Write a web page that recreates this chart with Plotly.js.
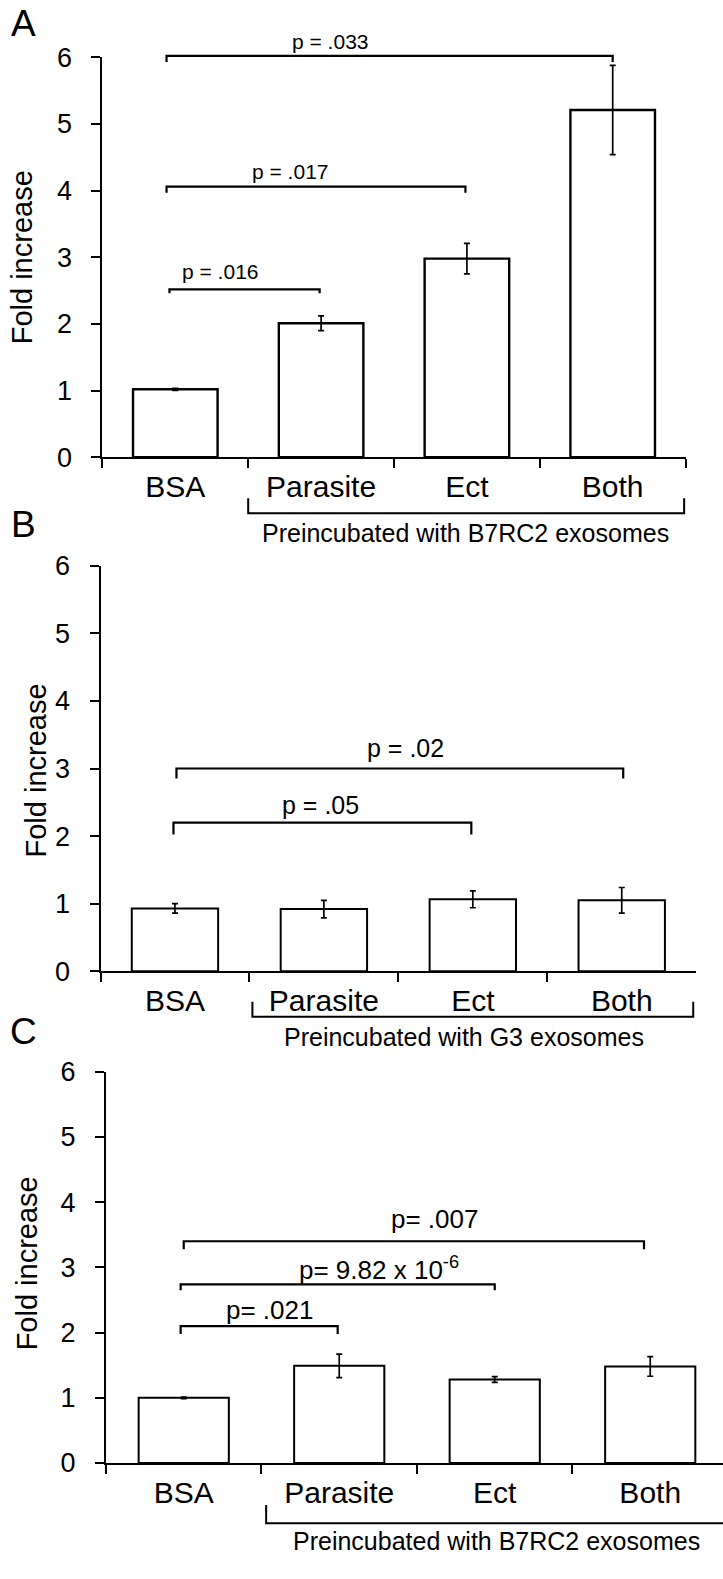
<!DOCTYPE html>
<html>
<head>
<meta charset="utf-8">
<script src="https://cdn.plot.ly/plotly-3.0.1.min.js"></script>
<style>html,body{margin:0;padding:0;background:#fff;}#chart{width:723px;height:1579px;}</style>
</head>
<body>
<div id="chart"></div>
<script>
// ---------- data ----------
const categories = ['BSA', 'Parasite', 'Ect', 'Both'];

const valuesA = [1.02, 2.01, 2.98, 5.21];
const errorsA = [0.015, 0.11, 0.23, 0.67];
const valuesB = [0.93, 0.92, 1.065, 1.05];
const errorsB = [0.07, 0.13, 0.125, 0.19];
const valuesC = [1.00, 1.49, 1.28, 1.48];
const errorsC = [0.012, 0.18, 0.045, 0.15];

const yTicks = [0, 1, 2, 3, 4, 5, 6];

const sigA_text = ['p = .016', 'p = .017', 'p = .033'];
const sigA_from = [-0.04, -0.06, -0.06];
const sigA_to   = [0.99, 1.99, 3.0];
const sigA_y    = [2.52, 4.06, 6.02];
const sigB_text = ['p = .05', 'p = .02'];
const sigB_from = [-0.01, 0.01];
const sigB_to   = [1.99, 3.01];
const sigB_y    = [2.2, 3.0];
const sigC_text = ['p= .021', 'p= 9.82 x 10<sup>-6</sup>', 'p= .007'];
const sigC_from = [-0.02, -0.02, 0.0];
const sigC_to   = [0.99, 2.0, 2.96];
const sigC_y    = [2.10, 2.74, 3.40];

const groupLabels = ['Preincubated with B7RC2 exosomes', 'Preincubated with G3 exosomes', 'Preincubated with B7RC2 exosomes'];
const panelLetters = ['A', 'B', 'C'];
const yTitle = 'Fold increase';

// ---------- layout geometry (pixels) ----------
const W = 723, H = 1579;
const FONT = 'Liberation Sans, Arial, sans-serif';
const panels = [
  {x0: 102.4, x1: 685.6, rMax: 3.5,   yTop: 57.3,  yBot: 457.3, lw: 2.4, pFont: 21, pDrop: [4, 6, 6],
   sig: {text: sigA_text, from: sigA_from, to: sigA_to, y: sigA_y, tx: [0.31, 0.79, 1.06], ty: [2.78, 4.29, 6.23]},
   grp: {from: 0.5, to: 3.49, hy: 56, ey: 41, tx: 1.99, ty: 76}, titleX: 22, titleDy: 0, letterY: 24},
  {x0: 100.5, x1: 696.2, rMax: 3.5,   yTop: 565.7, yBot: 971.3, lw: 2.0, pFont: 25, pDrop: [12, 10],
   sig: {text: sigB_text, from: sigB_from, to: sigB_to, y: sigB_y, tx: [0.975, 1.55], ty: [2.46, 3.30]},
   grp: {from: 0.52, to: 3.48, hy: 45.4, ey: 30.4, tx: 1.94, ty: 65.7}, titleX: 35, titleDy: 2, letterY: 525},
  {x0: 106,   x1: 723,   rMax: 3.468, yTop: 1071.7, yBot: 1463, lw: 2.0, pFont: 26, pDrop: [8, 6, 8],
   sig: {text: sigC_text, from: sigC_from, to: sigC_to, y: sigC_y, tx: [0.553, 1.256, 1.615], ty: [2.35, 2.99, 3.74]},
   grp: {from: 0.53, to: 3.6, hy: 60.3, ey: 42, tx: 2.01, ty: 78, openRight: true}, titleX: 27, titleDy: -4, letterY: 1031}
];
const allValues = [valuesA, valuesB, valuesC];
const allErrors = [errorsA, errorsB, errorsC];

const PX = p => p / W;
const PY = p => 1 - p / H;
function catPx(P, c) { return P.x0 + (c + 0.5) * (P.x1 - P.x0) / (P.rMax + 0.5); }
function valPx(P, v) { return P.yBot - v * (P.yBot - P.yTop) / 6; }

const traces = [];
const layout = {
  width: W, height: H,
  margin: {l: 0, r: 0, t: 0, b: 0},
  paper_bgcolor: '#fff', plot_bgcolor: 'rgba(0,0,0,0)',
  showlegend: false, bargap: 0.42,
  font: {family: FONT, color: '#000'},
  shapes: [], annotations: []
};

panels.forEach((P, i) => {
  const sfx = i === 0 ? '' : String(i + 1);
  traces.push({
    type: 'bar', x: categories, y: allValues[i],
    xaxis: 'x' + sfx, yaxis: 'y' + sfx,
    marker: {color: '#fff', line: {color: '#000', width: P.lw}},
    error_y: {type: 'data', array: allErrors[i], visible: true, color: '#000', thickness: 1.7, width: 3},
    hoverinfo: 'skip'
  });
  layout['xaxis' + sfx] = {
    domain: [PX(P.x0), PX(P.x1)], anchor: 'y' + sfx, type: 'category',
    range: [-0.5, P.rMax], showline: true, linecolor: '#000', linewidth: 2,
    ticks: 'outside', tickson: 'boundaries', ticklen: 9, tickwidth: 2, tickcolor: '#000',
    tickfont: {family: FONT, size: 30, color: '#000'}, ticklabelstandoff: 2,
    showgrid: false, zeroline: false, fixedrange: true
  };
  layout['yaxis' + sfx] = {
    domain: [PY(P.yBot), PY(P.yTop)], anchor: 'x' + sfx,
    range: [0, 6], tickvals: yTicks, ticktext: yTicks.map(String),
    showline: true, linecolor: '#000', linewidth: 2,
    ticks: 'outside', ticklen: 9, tickwidth: 2, tickcolor: '#000',
    tickfont: {family: FONT, size: 27, color: '#000'}, ticklabelstandoff: 14,
    showgrid: false, zeroline: false, fixedrange: true
  };
  // y axis title
  layout.annotations.push({
    text: yTitle, xref: 'paper', yref: 'paper', x: PX(P.titleX), y: PY((P.yTop + P.yBot) / 2 + P.titleDy),
    textangle: -90, showarrow: false, xanchor: 'center', yanchor: 'middle',
    font: {family: FONT, size: 29, color: '#000'}
  });
  // panel letter
  layout.annotations.push({
    text: panelLetters[i], xref: 'paper', yref: 'paper', x: PX(23), y: PY(P.letterY),
    showarrow: false, xanchor: 'center', yanchor: 'middle',
    font: {family: FONT, size: 37, color: '#000'}
  });
  // significance brackets
  P.sig.text.forEach((t, k) => {
    const xl = catPx(P, P.sig.from[k]), xr = catPx(P, P.sig.to[k]);
    const yl = valPx(P, P.sig.y[k]), ye = yl + P.pDrop[k];
    layout.shapes.push({
      type: 'path', xref: 'paper', yref: 'paper',
      path: `M ${PX(xl)},${PY(ye)} L ${PX(xl)},${PY(yl)} L ${PX(xr)},${PY(yl)} L ${PX(xr)},${PY(ye)}`,
      line: {color: '#000', width: 2.2}
    });
    layout.annotations.push({
      text: t, xref: 'paper', yref: 'paper',
      x: PX(catPx(P, P.sig.tx[k])), y: PY(valPx(P, P.sig.ty[k])),
      showarrow: false, xanchor: 'center', yanchor: 'middle',
      font: {family: FONT, size: P.pFont, color: '#000'}
    });
  });
  // group bracket under the categories
  const g = P.grp;
  const gl = catPx(P, g.from), gr = Math.min(catPx(P, g.to), W);
  const hy = P.yBot + g.hy, ey = P.yBot + g.ey;
  const path = g.openRight
    ? `M ${PX(gl)},${PY(ey)} L ${PX(gl)},${PY(hy)} L ${PX(gr)},${PY(hy)}`
    : `M ${PX(gl)},${PY(ey)} L ${PX(gl)},${PY(hy)} L ${PX(gr)},${PY(hy)} L ${PX(gr)},${PY(ey)}`;
  layout.shapes.push({type: 'path', xref: 'paper', yref: 'paper', path: path, line: {color: '#000', width: 2}});
  layout.annotations.push({
    text: groupLabels[i], xref: 'paper', yref: 'paper',
    x: PX(catPx(P, g.tx)), y: PY(P.yBot + g.ty),
    showarrow: false, xanchor: 'center', yanchor: 'middle',
    font: {family: FONT, size: 25, color: '#000'}
  });
});

Plotly.newPlot('chart', traces, layout, {displayModeBar: false, staticPlot: true});
</script>
</body>
</html>
